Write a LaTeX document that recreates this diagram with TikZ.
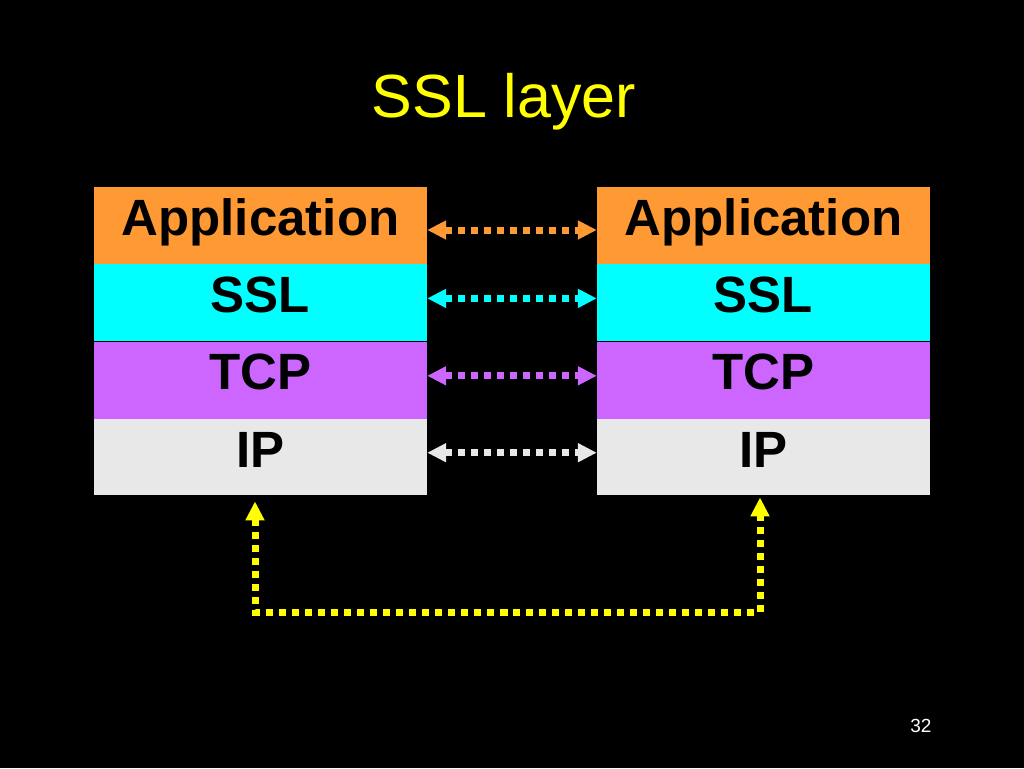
\documentclass[tikz,border=0pt]{standalone}
\usepackage{fontspec}
\setmainfont{Liberation Sans}
\usepackage{tikz}
\usetikzlibrary{arrows.meta, positioning}

\definecolor{apporange}{RGB}{255,153,51}
\definecolor{sslcyan}{RGB}{0,255,255}
\definecolor{tcppurple}{RGB}{204,102,255}
\definecolor{ipgray}{RGB}{232,232,232}
\definecolor{pathyellow}{RGB}{255,255,0}

\begin{document}
\begin{tikzpicture}[x=1pt, y=-1pt,
            layer/.style={rectangle, inner sep=0pt, minimum width=333pt, text height=48pt, text depth=29pt, font=\fontsize{51}{51}\selectfont\bfseries},
            peer/.style={line width=7pt, dash pattern=on 7pt off 6pt, {Triangle[length=19pt, width=18pt]}-{Triangle[length=19pt, width=18pt]}}]

            \fill[black] (0,0) rectangle (1024,768);
            \useasboundingbox (0,0) rectangle (1024,768);

            \node[anchor=base, text=pathyellow, font=\fontsize{61}{61}\selectfont] (title) at (504,117) {SSL layer};

            % left stack
            \node[layer, fill=apporange] (lapp) at (260.5,225.5) {Application};
            \node[layer, fill=sslcyan, below=0pt of lapp] (lssl) {SSL};
            \node[layer, fill=tcppurple, below=0pt of lssl] (ltcp) {TCP};
            \node[layer, fill=ipgray, below=0pt of ltcp, text depth=28pt] (lip) {IP};

            % right stack
            \node[layer, fill=apporange] (rapp) at (763.5,225.5) {Application};
            \node[layer, fill=sslcyan, below=0pt of rapp] (rssl) {SSL};
            \node[layer, fill=tcppurple, below=0pt of rssl] (rtcp) {TCP};
            \node[layer, fill=ipgray, below=0pt of rtcp, text depth=28pt] (rip) {IP};

            \draw[peer, apporange] ([yshift=-4.5pt]lapp.east) -- ([yshift=-4.5pt]rapp.west);
            \draw[peer, sslcyan] ([yshift=4.5pt]lssl.east) -- ([yshift=4.5pt]rssl.west);
            \draw[peer, tcppurple] ([yshift=4.5pt]ltcp.east) -- ([yshift=4.5pt]rtcp.west);
            \draw[peer, ipgray] ([yshift=4.5pt]lip.east) -- ([yshift=4.5pt]rip.west);

            \coordinate (low) at (507,612);
            \draw[peer, pathyellow] ([xshift=-5.5pt, yshift=-6pt]lip.south) |- (low) -| ([xshift=-3.5pt, yshift=-2pt]rip.south);

            \node[anchor=base east, text=white, font=\fontsize{19}{19}\selectfont] (page) at (935,732) {32};
        \end{tikzpicture}
\end{document}
